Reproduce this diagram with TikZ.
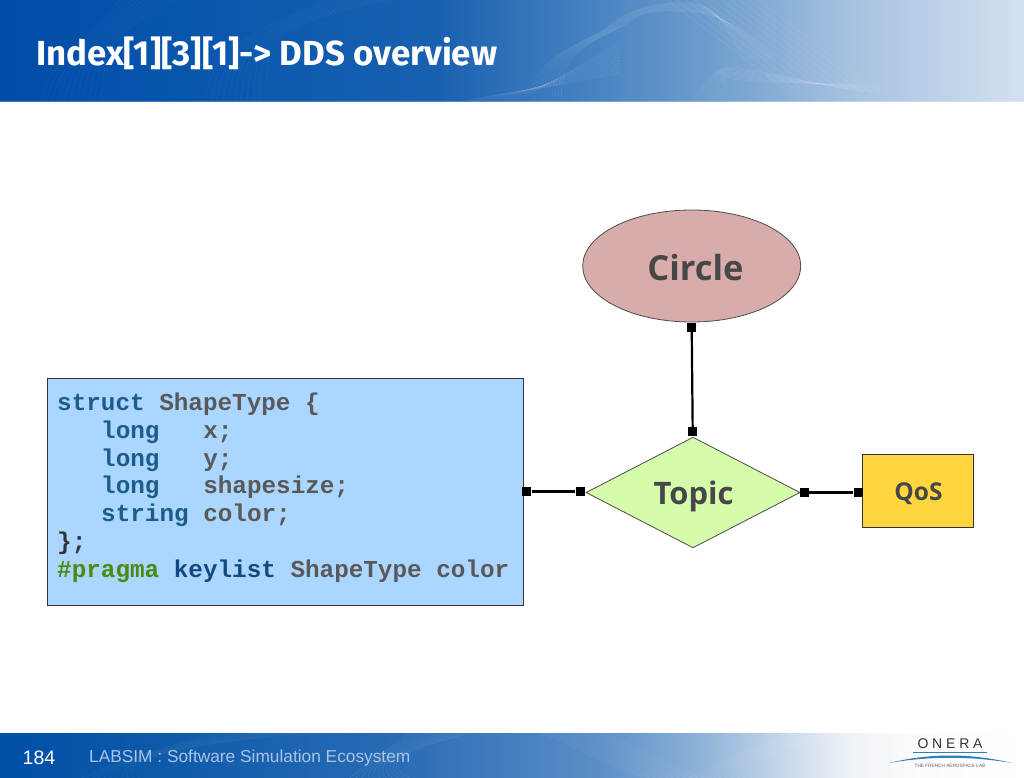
\documentclass[tikz,border=0pt]{standalone}
\usepackage{fontspec}
\usetikzlibrary{shapes.geometric}
\setmainfont{Liberation Sans}
\newfontfamily\titlefont{Fira Sans}
\newfontfamily\shapefont{Open Sans}
\newfontfamily\codefont{Liberation Mono}
\definecolor{kw}{HTML}{1D5C8C}
\definecolor{ty}{HTML}{595959}
\definecolor{pr}{HTML}{4A8A12}
\definecolor{nv}{HTML}{124A80}
\definecolor{codebg}{HTML}{ABD6FF}
\definecolor{circlebg}{HTML}{D7ACAA}
\definecolor{topicbg}{HTML}{D4FCAA}
\definecolor{qosbg}{HTML}{FFD640}
\definecolor{footgrey}{HTML}{A9C4E8}
\definecolor{logoblue}{HTML}{2F7FB8}
\pgfdeclarehorizontalshading{headshade}{100bp}{
 rgb(0bp)=(0,0.30,0.66); rgb(25bp)=(0,0.30,0.66); rgb(34.8bp)=(0.03,0.34,0.68); rgb(46.5bp)=(0.10,0.38,0.69);
 rgb(54.3bp)=(0.29,0.52,0.76); rgb(59.2bp)=(0.42,0.61,0.80); rgb(66.5bp)=(0.65,0.76,0.88); rgb(75bp)=(0.83,0.88,0.94); rgb(100bp)=(0.83,0.88,0.94)}
\pgfdeclarehorizontalshading{footshade}{100bp}{
 rgb(0bp)=(0,0.31,0.66); rgb(25bp)=(0,0.31,0.66); rgb(32.3bp)=(0.05,0.35,0.66); rgb(44.5bp)=(0.16,0.42,0.71);
 rgb(54.3bp)=(0.36,0.56,0.78); rgb(59.2bp)=(0.56,0.70,0.85); rgb(64bp)=(0.82,0.87,0.93); rgb(66.5bp)=(0.93,0.95,0.97);
 rgb(69bp)=(0.98,0.98,0.99); rgb(75bp)=(1,1,1); rgb(100bp)=(1,1,1)}
\tikzset{
 x=1pt,y=-1pt,
 wave/.style={draw=white,opacity=0.10,line width=0.5pt},
 faintwave/.style={draw=white,opacity=0.05,line width=0.5pt},
 codeline/.style={anchor=base west,inner sep=0pt,font=\codefont\bfseries\fontsize{24.3}{24.3}\selectfont},
 shapelabel/.style={text=black!72},
 term/.style={fill=black,draw=none,minimum size=9pt,inner sep=0pt},
 link/.style={draw=black,line width=3pt},
 vlink/.style={draw=black,line width=2.2pt},
 outline/.style={draw=black!80,line width=1.2pt},
}
\begin{document}
\begin{tikzpicture}
\useasboundingbox (0,0) rectangle (1024,778);
\fill[white] (0,0) rectangle (1024,778);
% header
\shade[shading=headshade] (0,0) rectangle (1024,102);
\fill[white,opacity=0.25] (0,101) rectangle (1024,103);
\begin{scope}
\clip (0,0) rectangle (1024,101);
\foreach \d in {0,3,...,30}{
 \draw[wave] (532+\d,102) .. controls (528+\d,55) and (585,45) .. (610+\d*0.5,25) .. controls (630+\d*0.5,8) and (660,2+\d*0.3) .. (690,3+\d*0.3) .. controls (720,3+\d*0.3) and (730+\d,40) .. (745+\d,60);
 \draw[wave] (665+\d*3,-2) -- (790+\d*3,93);
 \draw[wave] (693+\d,102) .. controls (705+\d,80) and (715,68) .. (730,67+\d*0.4) .. controls (780,72+\d*0.4) and (830,90-\d*0.2) .. (880,93-\d*0.3);
 \draw[wave] (460+\d*2,102) .. controls (500+\d,92) and (560,88-\d*0.3) .. (620,72-\d);
 \draw[faintwave] (40+\d*2,102) .. controls (50+\d*2,60) and (90,40) .. (120+\d*2,0);
 \draw[faintwave] (205+\d*2,102) .. controls (210+\d*2,50) and (250,30) .. (330+\d*2,0);
}
\end{scope}
\node[anchor=base west,inner sep=0pt,text=white,font=\titlefont\bfseries\fontsize{34.8}{34.8}\selectfont] (title) at (36,66) {Index[1][3][1]-> DDS overview};
% footer
\shade[shading=footshade] (0,733) rectangle (1024,778);
\begin{scope}
\clip (0,733) rectangle (1024,778);
\foreach \d in {0,3,...,30}{
 \draw[faintwave] (80+\d*2,778) .. controls (120,760) and (170,745) .. (220+\d*3,733);
 \draw[wave] (350+\d*2,778) .. controls (370,760) and (395+\d,745) .. (410+\d*2,733);
 \draw[wave] (540+\d*2,733) .. controls (590+\d*2,750) and (610+\d*2,770) .. (650+\d*2,778);
 \draw[wave] (690+\d*2,778) .. controls (720+\d,760) and (760+\d,745) .. (790+\d*2,733);
}
\end{scope}
\node[anchor=base west,inner sep=0pt,text=white,font=\fontsize{19.5}{19.5}\selectfont] (page) at (22.5,764) {184};
\node[anchor=base west,inner sep=0pt,text=footgrey,font=\fontsize{17.3}{17.3}\selectfont] (foot) at (89,762) {LABSIM : Software Simulation Ecosystem};
% logo
\node[anchor=base,inner sep=0pt,text=black!80,font=\fontsize{14}{14}\selectfont] (onera) at (950,748) {O\kern3.8pt N\kern3.8pt E\kern3.8pt R\kern3.8pt A};
\draw[logoblue,line width=1pt] (913,752) -- (987,752);
\fill[logoblue] (889,763) .. controls (930,753) and (970,753) .. (1012,763) .. controls (970,756) and (930,756) .. (889,763) -- cycle;
\node[anchor=base,inner sep=0pt,text=black!60,font=\fontsize{4.7}{4.7}\selectfont] (lab) at (950,767) {THE FRENCH AEROSPACE LAB};
% code box
\node[outline,fill=codebg,rectangle,minimum width=476pt,minimum height=227pt,anchor=north west,inner sep=0pt] (code) at (46.7,378.2) {};
\node[codeline,text=kw] (l1) at (57,410.5) {struct \textcolor{ty}{ShapeType \{}};
\node[codeline,text=kw] (l2) at (101,438.2) {long\ \ \ \textcolor{ty}{x;}};
\node[codeline,text=kw] (l3) at (101,466) {long\ \ \ \textcolor{ty}{y;}};
\node[codeline,text=kw] (l4) at (101,493.7) {long\ \ \ \textcolor{ty}{shapesize;}};
\node[codeline,text=kw] (l5) at (101,521.5) {string \textcolor{ty}{color;}};
\node[codeline,text=black!80] (l6) at (57,549.2) {\};};
\node[codeline,text=pr] (l7) at (57,577) {\#pragma \textcolor{nv}{keylist} \textcolor{ty}{ShapeType color}};
% shapes
\node[ellipse,draw=black!70,line width=0.8pt,fill=circlebg,minimum width=218pt,minimum height=112pt,inner sep=0pt] (circle) at (691.7,266) {};
\node[shapelabel,font=\shapefont\bfseries\fontsize{34.5}{34.5}\selectfont] (circlet) at (695.5,268) {Circle};
\node[diamond,aspect=1.93,draw=black!70,line width=0.8pt,fill=topicbg,minimum width=214pt,minimum height=110.7pt,inner sep=0pt] (topic) at (693,492.5) {};
\node[shapelabel,font=\shapefont\bfseries\fontsize{31}{31}\selectfont] (topict) at (693.5,496) {Topic};
\node[rectangle,outline,fill=qosbg,minimum width=111pt,minimum height=73pt,inner sep=0pt] (qos) at (918,491) {};
\node[shapelabel,font=\shapefont\bfseries\fontsize{24.5}{24.5}\selectfont] (qost) at (918.5,493.5) {QoS};
% connector terminals
\node[term] (t1) at (691.7,327.3) {};
\node[term] (t2) at (692.7,431.7) {};
\node[term] (t3) at (526.8,491) {};
\node[term] (t4) at (580,491) {};
\node[term] (t5) at (804.3,492.3) {};
\node[term] (t6) at (858,492.3) {};
\draw[vlink] (t1) -- (t2);
\draw[link] (t3) -- (t4);
\draw[link] (t5) -- (t6);
\end{tikzpicture}
\end{document}
